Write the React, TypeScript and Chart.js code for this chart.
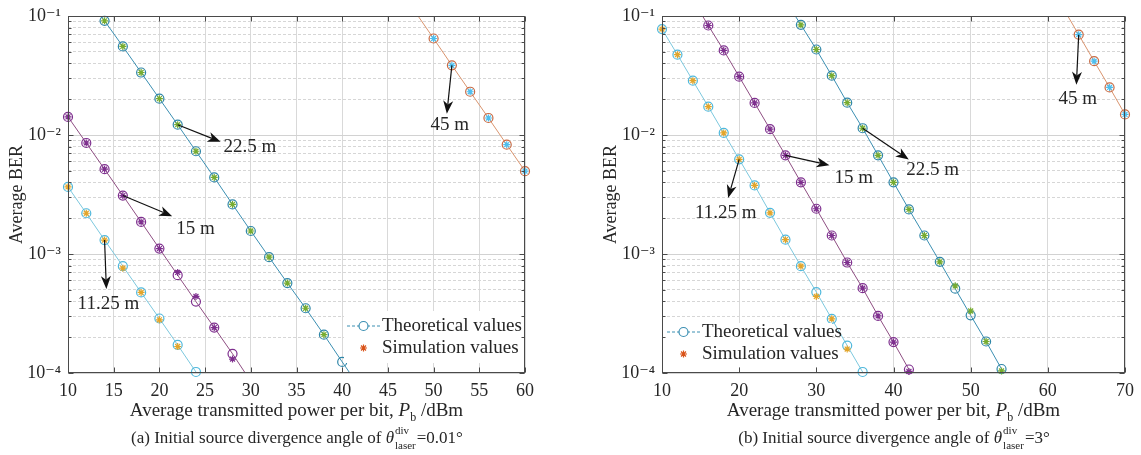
import { useEffect, useRef } from 'react';
import { Chart, registerables } from 'chart.js';

Chart.register(...registerables);

const SERIF = "'Liberation Serif', 'Times New Roman', 'DejaVu Serif', serif";
const TEXT = '#262626';

// ---------- y axis (log) ----------
const yDecades = [1e-4, 1e-3, 1e-2, 1e-1];
const yDecadeLabels = ['10⁻⁴', '10⁻³', '10⁻²', '10⁻¹'];
const yMinorMultipliers = [2, 3, 4, 5, 6, 7, 8, 9];

// ---------- panel (a): θ = 0.01° ----------
const aXTicks = [10, 15, 20, 25, 30, 35, 40, 45, 50, 55, 60];

const aX_11 = [10, 12, 14, 16, 18, 20, 22, 24, 26];
const aTh_11 = [0.00366, 0.0022, 0.00131, 0.00079, 0.000475, 0.000287, 0.000172, 0.000102, 0.00006];
const aSim_11 = [0.00366, 0.0022, 0.00131, 0.00076, 0.000475, 0.00028, 0.000167, null, null];

const aX_15 = [10, 12, 14, 16, 18, 20, 22, 24, 26, 28, 30];
const aTh_15 = [0.0142, 0.00857, 0.00516, 0.0031, 0.00186, 0.00111, 0.000664, 0.000398, 0.000241, 0.000145, 0.000085];
const aSim_15 = [0.0142, 0.00857, 0.00516, 0.0031, 0.00186, 0.00111, 0.0007, 0.00044, 0.000241, 0.000131, null];

const aX_22 = [12, 14, 16, 18, 20, 22, 24, 26, 28, 30, 32, 34, 36, 38, 40, 42];
const aTh_22 = [0.15, 0.091, 0.0555, 0.0335, 0.0202, 0.0122, 0.0073, 0.0044, 0.00261, 0.00156, 0.00094, 0.00057, 0.00035, 0.00021, 0.000124, 0.000074];
const aSim_22 = [null, 0.091, 0.0555, 0.0335, 0.0202, 0.0122, 0.0073, 0.0044, 0.00261, 0.00156, 0.00094, 0.00057, 0.00035, 0.00021, null, null];

const aX_45 = [48, 50, 52, 54, 56, 58, 60];
const aTh_45 = [0.108, 0.0647, 0.0385, 0.0231, 0.0139, 0.0083, 0.00497];
const aSim_45 = [null, 0.0647, 0.0385, 0.0231, 0.0139, 0.0083, 0.00497];

// annotations: [from point], [arrow tip], [text left-middle] in data units
const aAnnotLabels = ['22.5 m', '15 m', '11.25 m', '45 m'];
const aAnnotFrom = [[22, 0.0122], [16, 0.0031], [14, 0.00131], [52, 0.0385]];
const aAnnotTo = [[26.7, 0.00877], [21.4, 0.00208], [14.2, 0.000508], [51.45, 0.0151]];
const aAnnotText = [[27.0, 0.00787], [21.84, 0.00161], [11.05, 0.000377], [49.65, 0.0121]];

// ---------- panel (b): θ = 3° ----------
const bXTicks = [10, 20, 30, 40, 50, 60, 70];

const bX_11 = [10, 12, 14, 16, 18, 20, 22, 24, 26, 28, 30, 32, 34, 36, 38];
const bTh_11 = [0.0777, 0.0473, 0.0286, 0.0173, 0.0104, 0.00625, 0.00377, 0.00222, 0.00132, 0.00079, 0.000479, 0.000285, 0.00017, 0.000102, 0.00006];
const bSim_11 = [0.0777, 0.0473, 0.0286, 0.0173, 0.0104, 0.00625, 0.00377, 0.00222, 0.00132, 0.00079, 0.00044, 0.000285, 0.000159, null, null];

const bX_15 = [14, 16, 18, 20, 22, 24, 26, 28, 30, 32, 34, 36, 38, 40, 42, 44];
const bTh_15 = [0.136, 0.0832, 0.0514, 0.0309, 0.0186, 0.0112, 0.00675, 0.004, 0.0024, 0.00143, 0.000848, 0.000516, 0.000302, 0.000182, 0.000107, 0.000063];
const bSim_15 = [null, 0.0832, 0.0514, 0.0309, 0.0186, 0.0112, 0.00675, 0.004, 0.0024, 0.00143, 0.000848, 0.000516, 0.000302, 0.000182, 0.000103, null];

const bX_22 = [26, 28, 30, 32, 34, 36, 38, 40, 42, 44, 46, 48, 50, 52, 54, 56];
const bTh_22 = [0.135, 0.0843, 0.0523, 0.0315, 0.0187, 0.0114, 0.00675, 0.004, 0.00237, 0.00143, 0.00086, 0.000511, 0.000305, 0.000184, 0.000108, 0.000063];
const bSim_22 = [null, 0.0843, 0.0523, 0.0315, 0.0187, 0.0114, 0.00675, 0.004, 0.00237, 0.00143, 0.00086, 0.00054, 0.000332, 0.000184, 0.000104, null];

const bX_45 = [62, 64, 66, 68, 70];
const bTh_45 = [0.116, 0.0697, 0.0417, 0.0251, 0.0149];
const bSim_45 = [null, 0.0697, 0.0417, 0.0251, 0.0149];

const bAnnotLabels = ['11.25 m', '15 m', '22.5 m', '45 m'];
const bAnnotFrom = [[20, 0.00625], [26, 0.00675], [36, 0.0114], [64, 0.0697]];
const bAnnotTo = [[18.57, 0.00296], [31.7, 0.00557], [41.98, 0.00621], [63.7, 0.0264]];
const bAnnotText = [[14.27, 0.00222], [32.37, 0.00432], [41.64, 0.00507], [61.38, 0.0199]];

// ---------- colours ----------
const COL_11 = { line: '#7cc8de', circle: '#4fb8dc', star: '#e3a52a' };
const COL_15 = { line: '#8e4e82', circle: '#7e2f8e', star: '#7e2f8e' };
const COL_22 = { line: '#3b8fb2', circle: '#2f86a8', star: '#77ac30' };
const COL_45 = { line: '#d9946e', circle: '#c86a44', star: '#4dbeee' };
const LEG_LINE = '#3b8fb2';
const LEG_STAR = '#d95319';

const isDecade = (v: number) => Math.abs(Math.log10(v) - Math.round(Math.log10(v))) < 1e-6;

function buildYTicks() {
  const ticks: number[] = [];
  for (let i = 0; i < yDecades.length - 1; i++) {
    ticks.push(yDecades[i]);
    yMinorMultipliers.forEach((m) => ticks.push(yDecades[i] * m));
  }
  ticks.push(yDecades[yDecades.length - 1]);
  return ticks;
}
const yTickValues = buildYTicks();

function yLabel(v: number) {
  for (let i = 0; i < yDecades.length; i++) {
    if (Math.abs(v / yDecades[i] - 1) < 1e-9) return yDecadeLabels[i];
  }
  return '';
}

type Series = { x: number[]; th: number[]; sim: (number | null)[]; col: { line: string; circle: string; star: string } };

type PanelCfg = {
  id: string;
  xMin: number;
  xMax: number;
  xTicks: number[];
  series: Series[];
  annot: { labels: string[]; from: number[][]; to: number[][]; text: number[][] };
  captionPrefix: string;
  captionValue: string;
  canvasLeft: number;
  canvasWidth: number;
  top: number;
  padRight: number;
  yAxisWidth: number;
  yTitlePad: number;
  legend: { dx: number; dy: number; boxW: number; boxTop: number; boxH: number };
};

const panelA: PanelCfg = {
  id: 'a',
  xMin: 10,
  xMax: 60,
  xTicks: aXTicks,
  series: [
    { x: aX_11, th: aTh_11, sim: aSim_11, col: COL_11 },
    { x: aX_15, th: aTh_15, sim: aSim_15, col: COL_15 },
    { x: aX_22, th: aTh_22, sim: aSim_22, col: COL_22 },
    { x: aX_45, th: aTh_45, sim: aSim_45, col: COL_45 },
  ],
  annot: { labels: aAnnotLabels, from: aAnnotFrom, to: aAnnotTo, text: aAnnotText },
  captionPrefix: '(a) Initial source divergence angle of ',
  captionValue: '=0.01°',
  canvasLeft: 0,
  canvasWidth: 575,
  top: 13,
  padRight: 50,
  yAxisWidth: 68,
  yTitlePad: 6,
  legend: { dx: 279, dy: -47, boxW: 180, boxTop: 15, boxH: 52 },
};

const panelB: PanelCfg = {
  id: 'b',
  xMin: 10,
  xMax: 70,
  xTicks: bXTicks,
  series: [
    { x: bX_11, th: bTh_11, sim: bSim_11, col: COL_11 },
    { x: bX_15, th: bTh_15, sim: bSim_15, col: COL_15 },
    { x: bX_22, th: bTh_22, sim: bSim_22, col: COL_22 },
    { x: bX_45, th: bTh_45, sim: bSim_45, col: COL_45 },
  ],
  annot: { labels: bAnnotLabels, from: bAnnotFrom, to: bAnnotTo, text: bAnnotText },
  captionPrefix: '(b) Initial source divergence angle of ',
  captionValue: '=3°',
  canvasLeft: 590,
  canvasWidth: 551,
  top: 10,
  padRight: 15,
  yAxisWidth: 72,
  yTitlePad: 10,
  legend: { dx: 5, dy: -41, boxW: 168, boxTop: 9, boxH: 44 },
};

function drawStar(ctx: CanvasRenderingContext2D, x: number, y: number, r: number, color: string) {
  ctx.save();
  ctx.strokeStyle = color;
  ctx.lineWidth = 1.2;
  ctx.beginPath();
  for (let k = 0; k < 4; k++) {
    const a = (k * Math.PI) / 4;
    ctx.moveTo(x - r * Math.cos(a), y - r * Math.sin(a));
    ctx.lineTo(x + r * Math.cos(a), y + r * Math.sin(a));
  }
  ctx.stroke();
  ctx.restore();
}

function drawArrow(ctx: CanvasRenderingContext2D, x0: number, y0: number, x1: number, y1: number) {
  const ang = Math.atan2(y1 - y0, x1 - x0);
  const L = 13;
  const W = 5;
  const c = Math.cos(ang);
  const s = Math.sin(ang);
  const bx = x1 - L * c;
  const by = y1 - L * s;
  const nx = x1 - L * 0.72 * c;
  const ny = y1 - L * 0.72 * s;
  ctx.save();
  ctx.strokeStyle = '#111';
  ctx.fillStyle = '#111';
  ctx.lineWidth = 1.2;
  ctx.beginPath();
  ctx.moveTo(x0, y0);
  ctx.lineTo(nx, ny);
  ctx.stroke();
  ctx.beginPath();
  ctx.moveTo(x1, y1);
  ctx.lineTo(bx - W * s, by + W * c);
  ctx.lineTo(nx, ny);
  ctx.lineTo(bx + W * s, by - W * c);
  ctx.closePath();
  ctx.fill();
  ctx.restore();
}

function makePlugin(cfg: PanelCfg) {
  return {
    id: 'panelDecor_' + cfg.id,
    afterDraw(chart: any) {
      const ctx: CanvasRenderingContext2D = chart.ctx;
      const area = chart.chartArea;
      const xs = chart.scales.x;
      const ys = chart.scales.y;
      const L = Math.round(area.left) + 0.5;
      const R = Math.round(area.right) - 0.5;
      const T = Math.round(area.top) + 0.5;
      const B = Math.round(area.bottom) - 0.5;

      // legend (white box)
      const lg = cfg.legend;
      const lx = area.left + lg.dx;
      const ly = area.bottom + lg.dy;
      ctx.save();
      ctx.fillStyle = '#ffffff';
      ctx.fillRect(lx - 3, ly - lg.boxTop, lg.boxW, lg.boxH);
      ctx.strokeStyle = LEG_LINE;
      ctx.lineWidth = 1;
      ctx.setLineDash([3, 2]);
      ctx.beginPath();
      ctx.moveTo(lx, ly);
      ctx.lineTo(lx + 33, ly);
      ctx.stroke();
      ctx.setLineDash([]);
      ctx.lineWidth = 1.2;
      ctx.beginPath();
      ctx.arc(lx + 16.5, ly, 4.5, 0, Math.PI * 2);
      ctx.fillStyle = '#ffffff';
      ctx.fill();
      ctx.stroke();
      drawStar(ctx, lx + 16.5, ly + 22, 3.5, LEG_STAR);
      ctx.fillStyle = TEXT;
      ctx.font = `19px ${SERIF}`;
      ctx.textBaseline = 'middle';
      ctx.textAlign = 'left';
      ctx.fillText('Theoretical values', lx + 35, ly);
      ctx.fillText('Simulation values', lx + 35, ly + 22);
      ctx.restore();

      // annotations
      ctx.save();
      for (let i = 0; i < cfg.annot.labels.length; i++) {
        const f = cfg.annot.from[i];
        const t = cfg.annot.to[i];
        const tx = cfg.annot.text[i];
        drawArrow(
          ctx,
          xs.getPixelForValue(f[0]),
          ys.getPixelForValue(f[1]),
          xs.getPixelForValue(t[0]),
          ys.getPixelForValue(t[1])
        );
        ctx.fillStyle = TEXT;
        ctx.font = `19px ${SERIF}`;
        ctx.textBaseline = 'middle';
        ctx.textAlign = 'left';
        ctx.fillText(cfg.annot.labels[i], xs.getPixelForValue(tx[0]), ys.getPixelForValue(tx[1]));
      }
      ctx.restore();

      // frame
      ctx.save();
      ctx.strokeStyle = '#4a4a4a';
      ctx.lineWidth = 1;
      ctx.strokeRect(L, T, R - L, B - T);
      // inward ticks
      ctx.beginPath();
      xs.ticks.forEach((tk: any) => {
        const px = Math.round(xs.getPixelForValue(tk.value)) + 0.5;
        ctx.moveTo(px, B);
        ctx.lineTo(px, B - 5);
        ctx.moveTo(px, T);
        ctx.lineTo(px, T + 5);
      });
      ys.ticks.forEach((tk: any) => {
        const py = Math.round(ys.getPixelForValue(tk.value)) + 0.5;
        const len = isDecade(tk.value) ? 5 : 3;
        ctx.moveTo(L, py);
        ctx.lineTo(L + len, py);
        ctx.moveTo(R, py);
        ctx.lineTo(R - len, py);
      });
      ctx.stroke();
      ctx.restore();

      // x axis title
      const cx = (area.left + area.right) / 2;
      ctx.save();
      ctx.fillStyle = TEXT;
      ctx.textBaseline = 'alphabetic';
      ctx.textAlign = 'left';
      const segs = [
        { t: 'Average transmitted power per bit, ', f: `19px ${SERIF}`, dy: 0 },
        { t: 'P', f: `italic 19px ${SERIF}`, dy: 0 },
        { t: 'b', f: `12px ${SERIF}`, dy: 5 },
        { t: ' /dBm', f: `19px ${SERIF}`, dy: 0 },
      ];
      let total = 0;
      segs.forEach((s) => {
        ctx.font = s.f;
        total += ctx.measureText(s.t).width;
      });
      let x = cx - total / 2;
      const baseT = area.bottom + 43;
      segs.forEach((s) => {
        ctx.font = s.f;
        ctx.fillText(s.t, x, baseT + s.dy);
        x += ctx.measureText(s.t).width;
      });

      // caption
      const baseC = area.bottom + 70;
      const fMain = `17px ${SERIF}`;
      const fTheta = `italic 17px ${SERIF}`;
      const fSmall = `11px ${SERIF}`;
      ctx.font = fMain;
      const w1 = ctx.measureText(cfg.captionPrefix).width;
      ctx.font = fTheta;
      const w2 = ctx.measureText('θ').width;
      ctx.font = fSmall;
      const w3 = Math.max(ctx.measureText('div').width, ctx.measureText('laser').width) + 1;
      ctx.font = fMain;
      const w4 = ctx.measureText(cfg.captionValue).width;
      let cx0 = cx - (w1 + w2 + w3 + w4) / 2;
      ctx.font = fMain;
      ctx.fillText(cfg.captionPrefix, cx0, baseC);
      cx0 += w1;
      ctx.font = fTheta;
      ctx.fillText('θ', cx0, baseC);
      cx0 += w2 + 1;
      ctx.font = fSmall;
      ctx.fillText('div', cx0, baseC - 9);
      ctx.fillText('laser', cx0, baseC + 6);
      cx0 += w3;
      ctx.font = fMain;
      ctx.fillText(cfg.captionValue, cx0, baseC);
      ctx.restore();
    },
  };
}

function buildConfig(cfg: PanelCfg): any {
  const datasets: any[] = [];
  const inRange = (v: any) => typeof v === 'number' && v >= 0.99e-4 && v <= 1.01e-1;
  cfg.series.forEach((s) => {
    const pts = s.x.map((x, i) => ({ x, y: s.th[i] }));
    const sims = s.x.map((x, i) => ({ x, y: s.sim[i] }));
    datasets.push({
      data: pts,
      borderColor: s.col.line,
      borderWidth: 1,
      pointRadius: 0,
      fill: false,
      tension: 0,
      clip: 0,
      order: 3,
    });
    datasets.push({
      data: pts,
      showLine: false,
      pointStyle: 'circle',
      pointRadius: (c: any) => (c.raw && inRange(c.raw.y) ? 4.5 : 0),
      pointBorderColor: s.col.circle,
      pointBackgroundColor: 'rgba(255,255,255,0)',
      pointBorderWidth: 1.2,
      clip: false,
      order: 2,
    });
    datasets.push({
      data: sims,
      showLine: false,
      pointStyle: 'star',
      pointRadius: 3.5,
      pointBorderColor: s.col.star,
      pointBackgroundColor: s.col.star,
      pointBorderWidth: 1.2,
      clip: false,
      order: 1,
    });
  });

  return {
    type: 'line',
    data: { datasets },
    plugins: [makePlugin(cfg)],
    options: {
      animation: false,
      responsive: false,
      maintainAspectRatio: false,
      events: [],
      layout: { padding: { left: 0, top: cfg.top, right: cfg.padRight, bottom: 0 } },
      plugins: { legend: { display: false }, tooltip: { enabled: false } },
      scales: {
        x: {
          type: 'linear',
          min: cfg.xMin,
          max: cfg.xMax,
          afterBuildTicks: (s: any) => {
            s.ticks = cfg.xTicks.map((v) => ({ value: v }));
          },
          afterFit: (s: any) => {
            s.height = 455 - 373;
          },
          ticks: {
            font: { family: SERIF, size: 18 },
            color: TEXT,
            padding: 7,
            maxRotation: 0,
            autoSkip: false,
          },
          grid: { color: '#d9d9d9', lineWidth: 1, drawTicks: false },
          border: { display: false },
        },
        y: {
          type: 'logarithmic',
          min: yDecades[0],
          max: yDecades[yDecades.length - 1],
          afterBuildTicks: (s: any) => {
            s.ticks = yTickValues.map((v) => ({ value: v, major: isDecade(v) }));
          },
          afterFit: (s: any) => {
            s.width = cfg.yAxisWidth;
          },
          ticks: {
            callback: (v: any) => yLabel(Number(v)),
            font: { family: SERIF, size: 18, lineHeight: 1 },
            color: TEXT,
            padding: 7,
            autoSkip: false,
          },
          grid: {
            color: (c: any) => (c.tick && isDecade(c.tick.value) ? '#d2d2d2' : '#d6d6d6'),
            lineWidth: 1,
            drawTicks: false,
          },
          border: {
            display: false,
            dash: (c: any) => (c.tick && !isDecade(c.tick.value) ? [3, 2] : []),
          },
          title: {
            display: true,
            text: 'Average BER',
            font: { family: SERIF, size: 18 },
            color: TEXT,
            padding: { top: cfg.yTitlePad, bottom: 0 },
          },
        },
      },
    },
  };
}

function Panel({ cfg }: { cfg: PanelCfg }) {
  const ref = useRef<HTMLCanvasElement>(null);
  useEffect(() => {
    const chart = new Chart(ref.current as HTMLCanvasElement, buildConfig(cfg));
    return () => chart.destroy();
  }, [cfg]);
  return (
    <canvas
      ref={ref}
      width={cfg.canvasWidth}
      height={455}
      style={{ position: 'absolute', left: cfg.canvasLeft, top: 0, width: cfg.canvasWidth, height: 455 }}
    />
  );
}

export default function App() {
  return (
    <div
      style={{
        position: 'fixed',
        left: 0,
        top: 0,
        width: 1141,
        height: 455,
        background: '#ffffff',
        overflow: 'hidden',
      }}
    >
      <Panel cfg={panelA} />
      <Panel cfg={panelB} />
    </div>
  );
}
